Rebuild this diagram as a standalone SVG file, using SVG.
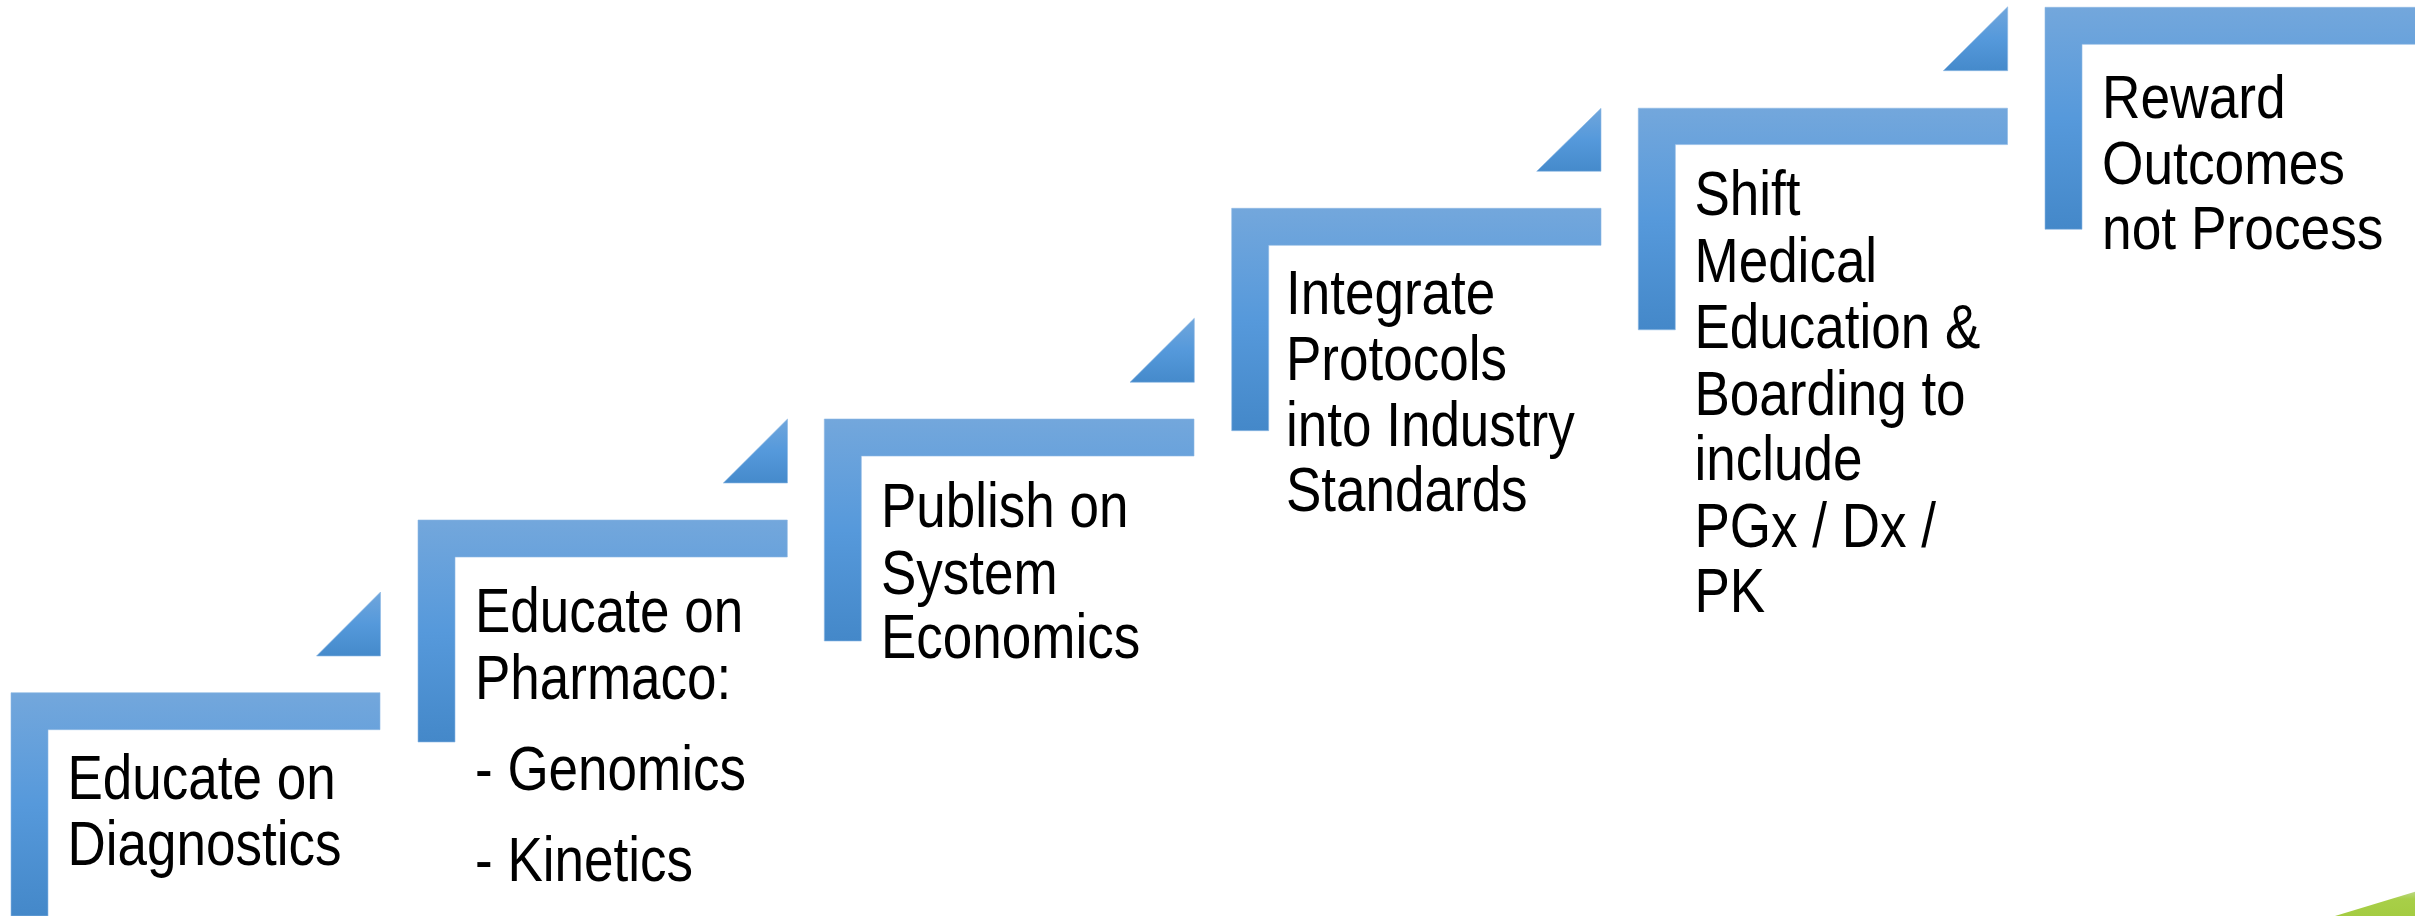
<svg xmlns="http://www.w3.org/2000/svg" width="2415" height="916" viewBox="0 0 2415 916">
<defs>
<linearGradient id="gL" x1="0" y1="0" x2="0" y2="1">
<stop offset="0" stop-color="#73A7DC"/>
<stop offset="0.5" stop-color="#5699DB"/>
<stop offset="1" stop-color="#4488C9"/>
</linearGradient>
<linearGradient id="gT" x1="0" y1="0" x2="0" y2="1">
<stop offset="0" stop-color="#70A6DC"/>
<stop offset="0.5" stop-color="#5599DB"/>
<stop offset="1" stop-color="#458ACB"/>
</linearGradient>
<linearGradient id="gG" x1="0" y1="0" x2="0" y2="1">
<stop offset="0" stop-color="#BCD886"/>
<stop offset="0.3" stop-color="#A8CF48"/>
<stop offset="1" stop-color="#A4CC42"/>
</linearGradient>
</defs>
<style>
.bar{fill:url(#gL);stroke:#8DB9E4;stroke-width:1;stroke-opacity:0.6}
.tri{fill:url(#gT);stroke:#8DB9E4;stroke-width:1;stroke-opacity:0.6}
.lbl{font-family:"Liberation Sans",Arial,sans-serif;font-size:62px;fill:#000}
</style>
<g id="connectors"></g>
<g id="step1">
<path class="bar" d="M11 692.7 H380 V729.7 H48 V916 H11 Z"/>
<path class="tri" d="M316.5 656 L380.5 592 V656 Z"/>
<text class="lbl" transform="translate(67.5,0) scale(0.855,1)"><tspan x="0" y="799">Educate on</tspan><tspan x="0" y="865.5">Diagnostics</tspan></text>
</g>
<g id="step2">
<path class="bar" d="M418 520 H787.3 V557 H455 V742 H418 Z"/>
<path class="tri" d="M723.3 483 L787.5 419 V483 Z"/>
<text class="lbl" transform="translate(475,0) scale(0.855,1)"><tspan x="0" y="632">Educate on</tspan><tspan x="0" y="699">Pharmaco:</tspan><tspan x="0" y="790">- Genomics</tspan><tspan x="0" y="881.5">- Kinetics</tspan></text>
</g>
<g id="step3">
<path class="bar" d="M824.3 419 H1194 V456 H861.3 V641 H824.3 Z"/>
<path class="tri" d="M1130 382.3 L1194.3 318.3 V382.3 Z"/>
<text class="lbl" transform="translate(881,0) scale(0.855,1)"><tspan x="0" y="527.5">Publish on</tspan><tspan x="0" y="594">System</tspan><tspan x="0" y="658.5">Economics</tspan></text>
</g>
<g id="step4">
<path class="bar" d="M1231.7 208.3 H1601 V245.3 H1268.7 V430.7 H1231.7 Z"/>
<path class="tri" d="M1536.7 171.3 L1601 108.3 V171.3 Z"/>
<text class="lbl" transform="translate(1286,0) scale(0.855,1)"><tspan x="0" y="314">Integrate</tspan><tspan x="0" y="380.5">Protocols</tspan><tspan x="0" y="446.5">into Industry</tspan><tspan x="0" y="511.5">Standards</tspan></text>
</g>
<g id="step5">
<path class="bar" d="M1638.3 108.2 H2007.5 V144.6 H1675.3 V329.8 H1638.3 Z"/>
<path class="tri" d="M1943.3 70.7 L2007.7 6.8 V70.7 Z"/>
<text class="lbl" transform="translate(1694.5,0) scale(0.855,1)"><tspan x="0" y="215">Shift</tspan><tspan x="0" y="282.5">Medical</tspan><tspan x="0" y="348.5">Education &amp;</tspan><tspan x="0" y="415">Boarding to</tspan><tspan x="0" y="480.5">include</tspan><tspan x="0" y="546.7">PGx / Dx /</tspan><tspan x="0" y="612.3">PK</tspan></text>
</g>
<g id="step6">
<path class="bar" d="M2045 7.3 H2416 V44.3 H2082 V229.3 H2045 Z"/>
<text class="lbl" transform="translate(2102,0) scale(0.86,1)"><tspan x="0" y="118.5">Reward</tspan><tspan x="0" y="184">Outcomes</tspan><tspan x="0" y="249.5">not Process</tspan></text>
</g>
<g id="corner">
<path d="M2335 916 L2415 891.7 V916 Z" fill="url(#gG)"/>
</g>
</svg>
